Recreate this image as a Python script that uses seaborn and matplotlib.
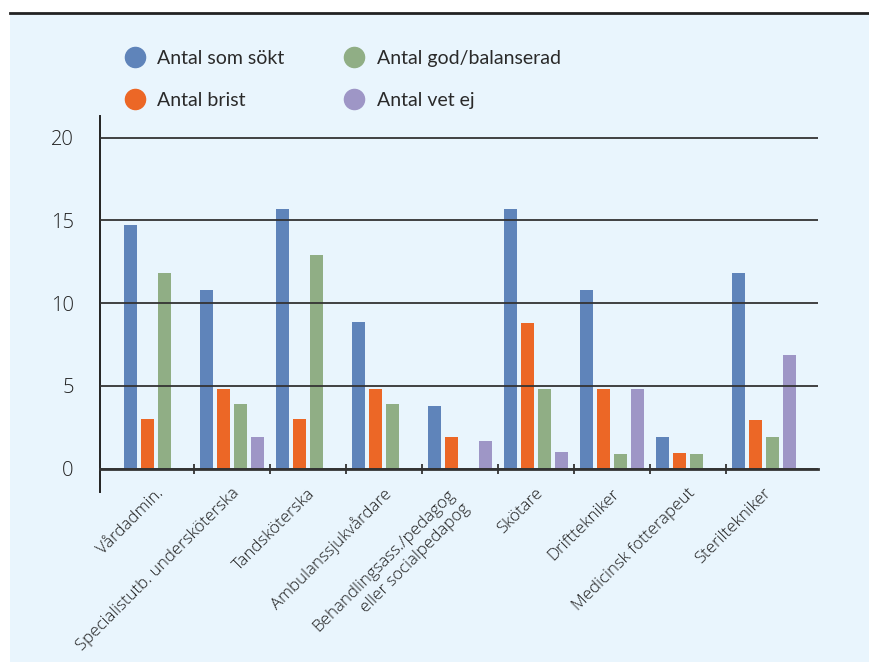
import numpy as np
import pandas as pd
import matplotlib
matplotlib.use("Agg")
import matplotlib.pyplot as plt
import seaborn as sns
from matplotlib.lines import Line2D
from matplotlib.patches import Rectangle
from matplotlib.transforms import ScaledTranslation

# ---------------- data ----------------
categories = [
    "Vårdadmin.",
    "Specialistutb. undersköterska",
    "Tandsköterska",
    "Ambulanssjukvårdare",
    "Behandlingsass./pedagog\neller socialpedapog",
    "Skötare",
    "Drifttekniker",
    "Medicinsk fotterapeut",
    "Steriltekniker",
]
series = ["Antal som sökt", "Antal brist", "Antal god/balanserad", "Antal vet ej"]
antal_sokt = [14.7, 10.8, 15.7, 8.85, 3.8, 15.7, 10.8, 1.9, 11.8]
antal_brist = [3.0, 4.8, 3.0, 4.8, 1.95, 8.8, 4.8, 0.95, 2.95]
antal_god = [11.8, 3.9, 12.9, 3.9, None, 4.8, 0.87, 0.87, 1.9]
antal_vet_ej = [None, 1.95, None, None, 1.7, 1.0, 4.8, None, 6.85]
yticks = [0, 5, 10, 15, 20]
colors = ["#5F84BA", "#EC6726", "#90AE85", "#9E96C6"]

rows = []
for s, vals in zip(series, [antal_sokt, antal_brist, antal_god, antal_vet_ej]):
    for c, v in zip(categories, vals):
        if v is not None:
            rows.append({"Kategori": c, "Serie": s, "Antal": v})
df = pd.DataFrame(rows)

# ---------------- figure ----------------
W, H = 869, 662
fig = plt.figure(figsize=(W / 100, H / 100), dpi=100, facecolor="white")
fig.add_artist(Rectangle((10 / W, 0), 1, 1 - 13 / H, transform=fig.transFigure,
                         facecolor="#E9F5FD", edgecolor="none", zorder=0))
fig.add_artist(Line2D([10 / W, 1], [1 - 12.5 / H] * 2, transform=fig.transFigure,
                      color="#222222", lw=2, zorder=1))

ax = fig.add_axes([100 / W, (H - 492) / H, 718 / W, 376 / H])
ax.patch.set_alpha(0)

sns.barplot(data=df, x="Kategori", y="Antal", hue="Serie", order=categories,
            hue_order=series, palette=colors, saturation=1, width=0.895, gap=0.235,
            errorbar=None, legend=False, ax=ax)

ax.set_xlim(-0.737, 8.71)
ax.set_ylim(-1.4, 21.3)
ax.set_xlabel("")
ax.set_ylabel("")

# grid over the bars
ax.set_axisbelow(False)
ax.set_yticks(yticks)
ax.set_yticklabels([str(t) for t in yticks], fontsize=14.5, color="#222222",
                   family="Open Sans", fontweight="light")
ax.grid(axis="y", color="#333333", lw=1.3)
ax.grid(axis="x", visible=False)
ax.tick_params(axis="y", length=0, pad=19)

# spines
for s in ["top", "right"]:
    ax.spines[s].set_visible(False)
ax.spines["bottom"].set_position(("data", 0))
ax.spines["bottom"].set_color("#333333")
ax.spines["bottom"].set_linewidth(2)
ax.spines["left"].set_color("#222222")
ax.spines["left"].set_linewidth(1.4)

# x ticks: marks at group boundaries, labels at centers
n = len(categories)
ax.set_xticks([i + 0.5 for i in range(n - 1)])
ax.set_xticklabels([])
ax.tick_params(axis="x", which="major", direction="inout", length=7.5, width=1.3,
               color="#333333")
ax.set_xticks(list(range(n)), minor=True)
ax.set_xticklabels(categories, minor=True, rotation=45, ha="right", va="center",
                   rotation_mode="anchor", fontsize=12.2, color="#1e1e1e",
                   family="Open Sans", fontweight="light", linespacing=1.35)
ax.tick_params(axis="x", which="minor", length=0, pad=16)
for lab in ax.get_xticklabels(minor=True):
    dx, dy = 5, 0
    if "\n" in lab.get_text():
        dx, dy = 0, -8
    lab.set_transform(lab.get_transform()
                      + ScaledTranslation(dx / 100, dy / 100, fig.dpi_scale_trans))

# legend
handles = [Line2D([], [], marker="o", linestyle="none", markersize=14.5,
                  markerfacecolor=c, markeredgecolor=c) for c in colors]
leg = fig.legend(handles, series, loc="upper left",
                 bbox_to_anchor=(125 / W, 1 - 50 / H), ncol=2, frameon=False,
                 handlelength=1.0, handletextpad=0.65, columnspacing=3.1,
                 labelspacing=1.3, borderpad=0, borderaxespad=0,
                 prop={"family": "Lato", "weight": "normal", "size": 14})
for t in leg.get_texts():
    t.set_color("#2a2a2a")

fig.savefig("out.png", dpi=100, facecolor="white")
